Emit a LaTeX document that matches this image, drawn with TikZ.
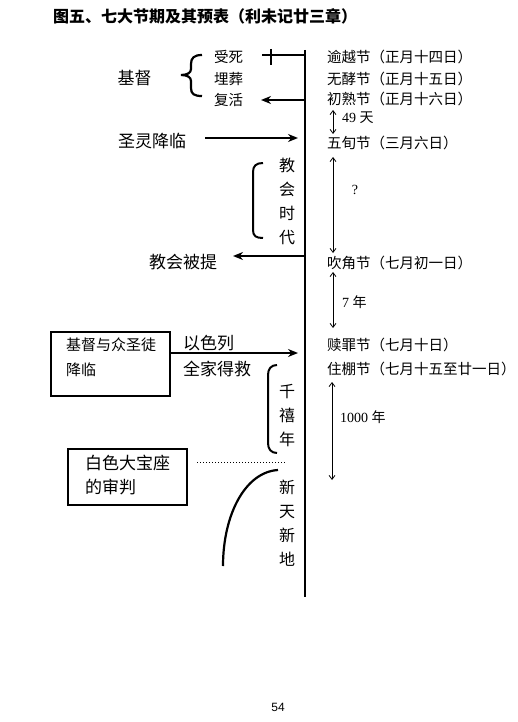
\documentclass[tikz,border=0pt]{standalone}
\usepackage{fontspec}
\setmainfont{Liberation Serif}
\newfontfamily\cjk{Noto Sans CJK SC}
\newfontfamily\pgsans{Liberation Sans}
\usetikzlibrary{arrows.meta}
\begin{document}
\begin{tikzpicture}[x=1pt,y=-1pt,
  lbl/.style={font=\cjk\fontsize{14.5}{14.5}\selectfont, inner sep=0pt},
  big/.style={font=\cjk\fontsize{17}{17}\selectfont, inner sep=0pt},
  mid/.style={font=\cjk\fontsize{15}{25}\selectfont, inner sep=0pt, align=left},
  vert/.style={font=\cjk\fontsize{16}{24}\selectfont, inner sep=0pt, align=center},
  num/.style={font=\fontsize{14}{14}\selectfont, inner sep=0pt},
  thickarr/.style={line width=2pt, -{Stealth[length=10pt,width=8pt]}},
  spanarr/.style={line width=0.8pt, {Straight Barb[length=4pt,width=6pt]}-{Straight Barb[length=4pt,width=6pt]}},
  heavy/.style={line width=2.2pt},
  boxst/.style={draw, line width=2pt, inner sep=0pt}
]
\useasboundingbox (0,0) rectangle (517,722);

% title
\node[anchor=west, inner sep=0pt, font=\cjk\bfseries\fontsize{16}{16}\selectfont] (title) at (53,16) {图五、七大节期及其预表（利未记廿三章）};

% main line
\coordinate (mtop) at (305,50);
\coordinate (mbot) at (305,597);
\draw[line width=2.6pt] (mtop) -- (mbot);

% left top group
\node[big] (jidu) at (134.5,78) {基督};
\node[lbl, anchor=west] (shousi) at (214,57) {受死};
\node[lbl, anchor=west] (maizang) at (214,79) {埋葬};
\node[lbl, anchor=west] (fuhuo) at (214,100) {复活};
\draw[heavy] (202,55) .. controls (194,55) and (191,58) .. (191,64) -- (191,69)
  .. controls (191,73) and (187,75) .. (181,75)
  .. controls (187,75) and (191,77) .. (191,81) -- (191,88)
  .. controls (191,94) and (194,96) .. (202,96);

\coordinate (m1) at (305,55);
\coordinate (t1) at (262,55);
\coordinate (tk1) at (271,49);
\coordinate (tk2) at (271,65);
\draw[line width=2pt] (m1) -- (t1);
\draw[line width=2pt] (tk1) -- (tk2);

\coordinate (m2) at (305,100);
\coordinate (a2) at (261,100);
\draw[thickarr] (m2) -- (a2);

% right labels
\node[lbl, anchor=west] (yuyue) at (327,57) {逾越节（正月十四日）};
\node[lbl, anchor=west] (wujiao) at (327,79) {无酵节（正月十五日）};
\node[lbl, anchor=west] (chushu) at (327,99) {初熟节（正月十六日）};
\node[anchor=west, inner sep=0pt] (d49) at (342,118) {\fontsize{14}{14}\selectfont 49 {\cjk 天}};
\node[lbl, anchor=west] (wuxun) at (327,143) {五旬节（三月六日）};
\node[num] (q) at (355,190) {?};
\node[lbl, anchor=west] (chuijiao) at (327,263) {吹角节（七月初一日）};
\node[anchor=west, inner sep=0pt] (d7) at (342,302) {\fontsize{14}{14}\selectfont 7 {\cjk 年}};
\node[lbl, anchor=west] (shuzui) at (327,345) {赎罪节（七月十日）};
\node[lbl, anchor=west] (zhupeng) at (327,369) {住棚节（七月十五至廿一日）};
\node[anchor=west, inner sep=0pt] (d1000) at (340,417) {\fontsize{14}{14}\selectfont 1000 {\cjk 年}};

\coordinate (s1a) at (333,110); \coordinate (s1b) at (333,134);
\coordinate (s2a) at (333,157); \coordinate (s2b) at (333,253);
\coordinate (s3a) at (333,272); \coordinate (s3b) at (333,328);
\coordinate (s4a) at (332,382); \coordinate (s4b) at (332,480);
\draw[spanarr] (s1a) -- (s1b);
\draw[spanarr] (s2a) -- (s2b);
\draw[spanarr] (s3a) -- (s3b);
\draw[spanarr] (s4a) -- (s4b);

% holy spirit
\node[big, anchor=west] (shengling) at (118,141) {圣灵降临};
\coordinate (a3s) at (205,138);
\coordinate (a3e) at (298,138);
\draw[thickarr] (a3s) -- (a3e);

% church age
\node[vert] (jiaohui) at (287,201) {教\\会\\时\\代};
\draw[line width=2pt] (263,163) .. controls (256,163) and (253,166) .. (253,172) -- (253,230)
  .. controls (253,236) and (256,238) .. (263,238);

% rapture
\node[big, anchor=west] (beiti) at (149,262) {教会被提};
\coordinate (m4) at (305,256);
\coordinate (a4) at (233,256);
\draw[thickarr] (m4) -- (a4);

% box 1
\node[boxst, minimum width=119pt, minimum height=64pt] (box1) at (110.5,364) {};
\node[mid, anchor=west] (box1t) at (66,357.5) {基督与众圣徒\\降临};
\node[big, anchor=west] (yisel) at (183,343) {以色列};
\node[big, anchor=west] (quanjia) at (183,369) {全家得救};
\coordinate (a5) at (298,353);
\draw[thickarr] (box1.east |- a5) -- (a5);

% millennium
\node[vert] (qianxi) at (287,416) {千\\禧\\年};
\draw[line width=2pt] (277,365) .. controls (271,365) and (268,369) .. (268,375) -- (268,443)
  .. controls (268,449) and (271,453) .. (277,453);

% box 2
\node[boxst, minimum width=119pt, minimum height=56pt] (box2) at (127.5,477) {};
\node[font=\cjk\fontsize{17}{24}\selectfont, inner sep=0pt, align=left, anchor=west] (box2t) at (85,475) {白色大宝座\\的审判};
\coordinate (d1) at (197,462);
\coordinate (d2) at (285,462);
\draw[line width=0.8pt, dash pattern=on 1pt off 2pt] (d1) -- (d2);

% new heaven new earth
\node[vert] (xintian) at (287,523) {新\\天\\新\\地};
\coordinate (c1) at (223,566);
\coordinate (c2) at (278,470);
\draw[heavy] (c1) .. controls (223,515) and (245,472) .. (c2);

% page number
\node[font=\pgsans\fontsize{12}{12}\selectfont, inner sep=0pt] (page) at (278,707) {54};
\end{tikzpicture}
\end{document}
